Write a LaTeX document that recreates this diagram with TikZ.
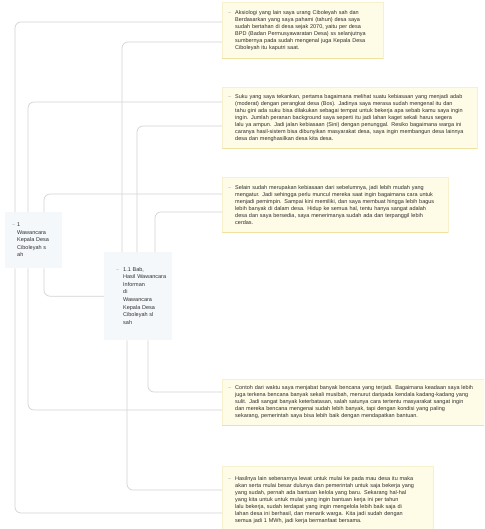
\documentclass[tikz,border=0pt]{standalone}
\usepackage{fontspec}
\setmainfont{Liberation Sans}
\definecolor{conn}{HTML}{D3D3D3}
\definecolor{notefill}{HTML}{FEFBE6}
\definecolor{noteedge}{HTML}{F8F0CC}
\definecolor{notebottom}{HTML}{EEE2A2}
\definecolor{topicfill}{HTML}{F5F8FA}
\definecolor{txt}{HTML}{2E2E2E}
\definecolor{markc}{HTML}{A8A8A8}
\newcommand{\mk}[1]{\llap{\textcolor{markc}{--}\hspace{#1}}}
\begin{document}
\begin{tikzpicture}[x=1pt,y=-1pt,
  note/.style={anchor=north west, fill=notefill, draw=noteedge, line width=0.4pt,
    inner xsep=13pt, inner ysep=0pt, align=left,
    font=\fontsize{5.5}{7}\selectfont, text=txt},
  topic/.style={anchor=north west, fill=topicfill, draw=none,
    inner xsep=8pt, inner ysep=0pt, align=left,
    font=\fontsize{5.5}{7.6}\selectfont, text=txt},
  link/.style={draw=conn, line width=0.7pt, rounded corners=6pt},
  edgeline/.style={draw=notebottom, line width=1.2pt}]
\useasboundingbox (0,0) rectangle (484,529);
\clip (0,0) rectangle (484,529);

% topics
\node[topic, text width=41pt, minimum height=56pt] (A) at (5,212)
  {\begin{tabular}{@{\hspace{4pt}}l@{}}\mk{2pt}1\\Wawancara\\Kepala Desa\\Ciboleyah s\\ah\end{tabular}};
\node[topic, text width=52pt, minimum height=88pt] (B) at (104,252)
  {\begin{tabular}{@{\hspace{11pt}}l@{}}\mk{4pt}1.1 Bab,\\Hasil Wawancara\\Informan\\di\\Wawancara\\Kepala Desa\\Ciboleyah sl\\sah\end{tabular}};

% notes
\node[note, text width=135pt, minimum height=56pt] (n1) at (222,2)
  {\mk{4pt}Aksiologi yang lain saya urang Ciboleyah sah dan\\
   Berdasarkan yang saya pahami (tahun) desa saya\\
   sudah bertahan di desa sejak 2070, yaitu per desa\\
   BPD (Badan Permusyawaratan Desa) ss selanjutnya\\
   sumbernya pada sudah mengenal juga Kepala Desa\\
   Ciboleyah itu kaputri saat.};
\node[note, text width=229pt, minimum height=61pt] (n2) at (222,87)
  {\mk{4pt}Suku yang saya tekankan, pertama bagaimana melihat suatu kebiasaan yang menjadi adab\\
   (moderat) dengan perangkat desa (Bos). Jadinya saya merasa sudah mengenal itu dan\\
   tahu gini ada suku bisa dilakukan sebagai tempat untuk bekerja apa sebab kamu saya ingin\\
   ingin. Jumlah peranan background saya seperti itu jadi lahan kaget sekali harus segera\\
   lalu ya ampun. Jadi jalan kebiasaan (Sini) dengan penunggal. Resiko bagaimana warga ini\\
   caranya hasil-sistem bisa dibunyikan masyarakat desa, saya ingin membangun desa lainnya\\
   desa dan menghasilkan desa kita desa.};
\node[note, text width=200pt, minimum height=55pt] (n3) at (222,177)
  {\mk{4pt}Selain sudah merupakan kebiasaan dari sebelumnya, jadi lebih mudah yang\\
   mengatur. Jadi sehingga perlu muncul mereka saat ingin bagaimana cara untuk\\
   menjadi pemimpin. Sampai kini memiliki, dan saya membuat hingga lebih bagus\\
   lebih banyak di dalam desa. Hidup ke semua hal, tentu hanya sangat adalah\\
   desa dan saya bersedia, saya menerimanya sudah ada dan terpanggil lebih\\
   cerdas.};
\node[note, text width=248pt, minimum height=46pt] (n4) at (222,379)
  {\mk{4pt}Contoh dari waktu saya menjabat banyak bencana yang terjadi. Bagaimana keadaan saya lebih\\
   juga terkena bencana banyak sekali musibah, menurut daripada kendala kadang-kadang yang\\
   sulit. Jadi sangat banyak keterbatasan, salah satunya cara tertentu masyarakat sangat ingin\\
   dan mereka bencana mengenai sudah lebih banyak, tapi dengan kondisi yang paling\\
   sekarang, pemerintah saya bisa lebih baik dengan mendapatkan bantuan.};
\node[note, text width=185pt, minimum height=68pt] (n5) at (222,466)
  {\mk{4pt}Hasilnya lain sebenarnya lewat untuk mulai ke pada mau desa itu maka\\
   akan serta mulai besar dulunya dan pemerintah untuk saja bekerja yang\\
   yang sudah, pernah ada bantuan kelola yang baru. Sekarang hal-hal\\
   yang kita untuk untuk mulai yang ingin bantuan kerja ini per tahun\\
   lalu bekerja, sudah terdapat yang ingin mengelola lebih baik saja di\\
   lahan desa ini berhasil, dan menarik warga. Kita jadi sudah dengan\\
   semua jadi 1 MWh, jadi kerja bermanfaat bersama.};

\foreach \n in {n1,n2,n3,n4,n5}
  \draw[edgeline] (\n.south west) -- (\n.south east);

% connectors from A
\draw[link] (A.north -| 15,0) |- (n1.west |- 0,22);
\draw[link] (A.north -| 28,0) |- (n2.west |- 0,102);
\draw[link] (A.north -| 44,0) |- (n3.west |- 0,194);
\draw[link] (A.south -| 44,0) |- (B.west);
\draw[link] (A.south -| 28,0) |- (n4.west |- 0,410);
\draw[link] (A.south -| 15,0) |- (n5.west |- 0,513);
% connectors from B
\draw[link] (B.north -| 122,0) |- (n1.west |- 0,42);
\draw[link] (B.north -| 137,0) |- (n2.west |- 0,126);
\draw[link] (B.north -| 155,0) |- (n3.west |- 0,212);
\draw[link] (B.south -| 148,0) |- (n4.west |- 0,392);
\draw[link] (B.south -| 127,0) |- (n5.west |- 0,490);
\end{tikzpicture}
\end{document}
